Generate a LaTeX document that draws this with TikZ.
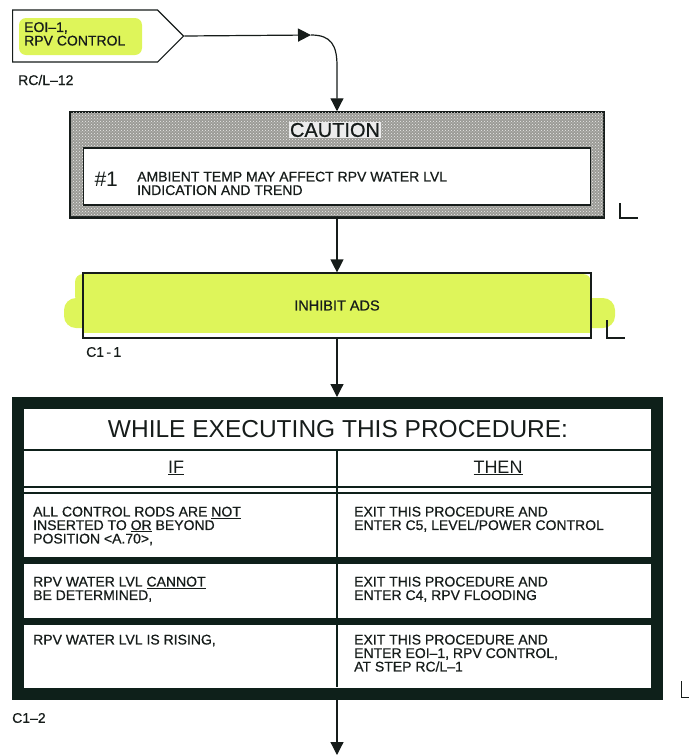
\documentclass[tikz,border=0pt]{standalone}
\usepackage{fontspec}
\setmainfont{Liberation Sans}
\newfontfamily\heavyfont{Liberation Sans}[FakeBold=0.6]
\usetikzlibrary{arrows.meta,shapes.symbols,patterns}
\definecolor{ink}{RGB}{22,28,26}
\definecolor{framec}{RGB}{14,32,26}
\definecolor{hl}{RGB}{222,245,90}
\definecolor{cgray}{RGB}{155,155,150}
\begin{document}
\begin{tikzpicture}[x=1pt,y=-1pt,
  txt/.style={font=\heavyfont\fontsize{14}{13.5}\selectfont, text=ink, align=left, inner sep=0pt},
  arr/.style={-{Triangle[width=13pt,length=13pt]}, line width=1.2pt, draw=ink},
  thinline/.style={draw=ink, line width=1.2pt},
  revmark/.style={draw=ink, line width=1.2pt}]
\useasboundingbox (0,0) rectangle (689,756);

% entry connector
\node[signal, signal to=east, signal pointer angle=90, draw=ink, line width=1.2pt,
      minimum width=171pt, minimum height=52pt, inner sep=0pt, anchor=west] (eoi) at (12,36) {};
\fill[hl, rounded corners=7pt] (19,18) rectangle (142,55);
\node[txt, anchor=north west] (eoitext) at (24,22) {EOI–1,\\RPV CONTROL};
\node[txt, anchor=west] (rcl) at (18,80) {RC/L–12};

% caution
\node[draw=ink, line width=1.5pt, fill=cgray, minimum width=533pt, minimum height=105pt, inner sep=0pt] (caution) at (337,164.5) {};
\fill[pattern=crosshatch dots, pattern color=white!85!gray] (caution.south west) rectangle (caution.north east);
\draw[ink, line width=1.5pt] (caution.south west) rectangle (caution.north east);
\node[draw=ink, line width=1.2pt, fill=white, minimum width=507pt, minimum height=57pt, inner sep=0pt] (cinner) at (337,176.5) {};
\node[font=\heavyfont\fontsize{20}{20}\selectfont, text=ink, inner sep=1pt, fill=white!85!gray] (cautiontitle) at (335,130) {CAUTION};
\node[font=\fontsize{21}{21}\selectfont\itshape, text=ink, inner sep=0pt] (num) at (106,179) {\#\upshape 1};
\node[txt, anchor=north west] (ctext) at (137,171.5) {AMBIENT TEMP MAY AFFECT RPV WATER LVL\\INDICATION AND TREND};
\draw[revmark] (620,203) -- (620,218) -- (638,218);

\coordinate (bend) at (311,35);
\draw[arr] (eoi.east) -- (bend);
\draw[arr] (bend) .. controls (331,35) and (337,45) .. (337,66) -- (caution.north);

% inhibit ADS
\fill[hl, rounded corners=8pt] (75,274) rectangle (591,304);
\fill[hl, rounded corners=12pt] (64,298) rectangle (615,328);
\fill[hl] (83,300) rectangle (591,333);
\node[thinline, txt, font=\heavyfont\fontsize{14.5}{14}\selectfont, minimum width=508pt, minimum height=65pt] (inhibit) at (337,305.5) {INHIBIT ADS};
\draw[revmark] (607,320) -- (607,338) -- (625,338);
\node[txt, anchor=west] (c11) at (86,352) {C1\,-\,1};
\draw[arr] (caution.south) -- (inhibit.north);

% while executing box
\node[draw=framec, line width=12pt, minimum width=639pt, minimum height=291pt, inner sep=0pt] (while) at (337.5,548.5) {};
\draw[arr] (inhibit.south) -- (while.north -| inhibit.south);
\node[font=\fontsize{24.5}{24}\selectfont, text=ink, inner sep=0pt] (title) at (338,429) {WHILE EXECUTING THIS PROCEDURE:};
\draw[framec, line width=1.2pt] (23,450) -- (651,450);
\draw[framec, line width=1.2pt] (23,487) -- (651,487);
\draw[framec, line width=1.2pt] (23,493) -- (651,493);
\draw[framec, line width=1.2pt] (337,450) -- (337,687);
\node[font=\fontsize{18}{18}\selectfont, text=ink, inner sep=0pt] (iftxt) at (176,468) {\underline{IF}};
\node[font=\fontsize{18}{18}\selectfont, text=ink, inner sep=0pt] (thentxt) at (498,468) {\underline{THEN}};
\fill[framec] (23,557) rectangle (651,564);
\fill[framec] (23,618) rectangle (651,625);

\node[txt, anchor=north west] (r1l) at (33,506.5) {ALL CONTROL RODS ARE \underline{NOT}\\INSERTED TO \underline{OR} BEYOND\\POSITION <A.70>,};
\node[txt, anchor=north west] (r1r) at (354,506.5) {EXIT THIS PROCEDURE AND\\ENTER C5, LEVEL/POWER CONTROL};
\node[txt, anchor=north west] (r2l) at (33,576.5) {RPV WATER LVL \underline{CANNOT}\\BE DETERMINED,};
\node[txt, anchor=north west] (r2r) at (354,576.5) {EXIT THIS PROCEDURE AND\\ENTER C4, RPV FLOODING};
\node[txt, anchor=north west] (r3l) at (33,634.5) {RPV WATER LVL IS RISING,};
\node[txt, anchor=north west] (r3r) at (354,634.5) {EXIT THIS PROCEDURE AND\\ENTER EOI–1, RPV CONTROL,\\AT STEP RC/L–1};

\draw[revmark, line width=1pt] (681,681) -- (681,697) -- (689,697);
\node[txt, anchor=west] (c12) at (12,718) {C1–2};
\coordinate (outlet) at (337,755);
\draw[arr] (while.south -| outlet) -- (outlet);
\end{tikzpicture}
\end{document}
